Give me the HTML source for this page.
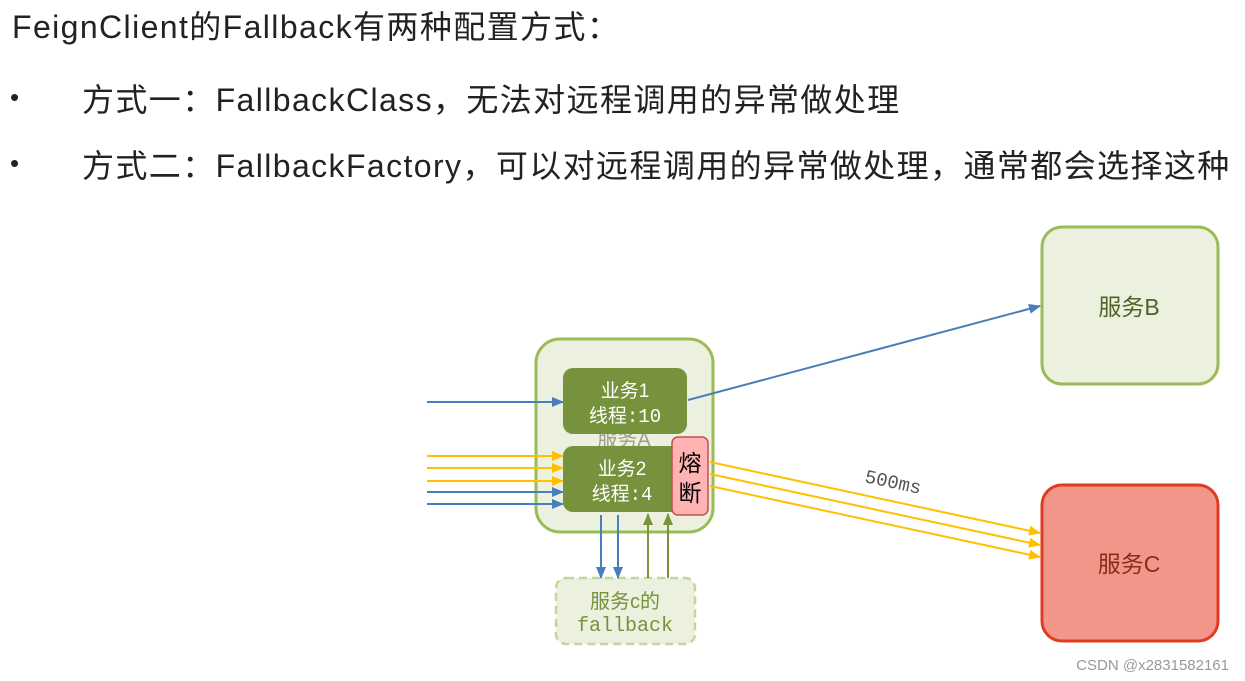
<!DOCTYPE html>
<html><head><meta charset="utf-8"><style>
body{margin:0;width:1245px;height:681px;background:#fff;position:relative;overflow:hidden;font-family:"Liberation Sans","Noto Sans CJK SC",sans-serif;}
.t{position:absolute;color:#222;font-size:32px;letter-spacing:1.4px;white-space:nowrap;}
.b{position:absolute;color:#222;font-size:26px;}
</style></head><body>
<div class="t" style="left:12px;top:2px;">FeignClient的Fallback有两种配置方式：</div>
<div class="b" style="left:10px;top:82px;">•</div>
<div class="t" style="left:82px;top:75px;">方式一：FallbackClass，无法对远程调用的异常做处理</div>
<div class="b" style="left:10px;top:148px;">•</div>
<div class="t" style="left:82px;top:141px;">方式二：FallbackFactory，可以对远程调用的异常做处理，通常都会选择这种</div>
<svg width="1245" height="681" style="position:absolute;left:0;top:0" font-family="Liberation Sans, Noto Sans CJK SC, sans-serif">
<defs>
<marker id="ab" markerWidth="12" markerHeight="10" refX="11" refY="5" orient="auto" markerUnits="userSpaceOnUse"><path d="M0,0L12,5L0,10z" fill="#4a7ebb"/></marker>
<marker id="ay" markerWidth="12" markerHeight="10" refX="11" refY="5" orient="auto" markerUnits="userSpaceOnUse"><path d="M0,0L12,5L0,10z" fill="#ffc000"/></marker>
<marker id="ag" markerWidth="12" markerHeight="10" refX="11" refY="5" orient="auto" markerUnits="userSpaceOnUse"><path d="M0,0L12,5L0,10z" fill="#77933c"/></marker>
</defs>
<rect x="1042" y="227" width="176" height="157" rx="20" fill="#ebf1de" stroke="#9bbb59" stroke-width="3"/>
<text x="1129" y="315" font-size="23" fill="#4f6228" text-anchor="middle">服务B</text>
<rect x="1042" y="485" width="176" height="156" rx="20" fill="#f2968a" stroke="#e03c1f" stroke-width="3"/>
<text x="1129" y="572" font-size="23" fill="#8b2c1a" text-anchor="middle">服务C</text>
<rect x="536" y="339" width="177" height="193" rx="24" fill="#ebf1de" stroke="#9bbb59" stroke-width="3"/>
<text x="624" y="446" font-size="20" fill="#9aa08a" text-anchor="middle">服务A</text>
<rect x="563" y="368" width="124" height="66" rx="10" fill="#76923c"/>
<text x="625" y="397" font-size="19" fill="#fff" text-anchor="middle">业务1</text>
<text x="625" y="422" font-size="19" fill="#fff" text-anchor="middle">线程<tspan font-family="Liberation Mono, monospace">:10</tspan></text>
<rect x="563" y="446" width="124" height="66" rx="10" fill="#76923c"/>
<text x="622" y="475" font-size="19" fill="#fff" text-anchor="middle">业务2</text>
<text x="622" y="500" font-size="19" fill="#fff" text-anchor="middle">线程<tspan font-family="Liberation Mono, monospace">:4</tspan></text>
<rect x="672" y="437" width="36" height="78" rx="6" fill="#ffb3b3" stroke="#c0504d" stroke-width="1.5"/>
<text x="690" y="471" font-size="23" fill="#000" text-anchor="middle">熔</text>
<text x="690" y="501" font-size="23" fill="#000" text-anchor="middle">断</text>
<rect x="556" y="578" width="139" height="66" rx="10" fill="#ebf1de" stroke="#c3d69b" stroke-width="2.5" stroke-dasharray="8,5"/>
<text x="625" y="608" font-size="20" fill="#76923c" text-anchor="middle">服务c的</text>
<text x="625" y="631" font-size="20" fill="#76923c" text-anchor="middle" font-family="Liberation Mono, monospace">fallback</text>
<g stroke-width="2" fill="none">
<line x1="427" y1="402" x2="563" y2="402" stroke="#4a7ebb" marker-end="url(#ab)"/>
<line x1="427" y1="456" x2="563" y2="456" stroke="#ffc000" marker-end="url(#ay)"/>
<line x1="427" y1="468" x2="563" y2="468" stroke="#ffc000" marker-end="url(#ay)"/>
<line x1="427" y1="481" x2="563" y2="481" stroke="#ffc000" marker-end="url(#ay)"/>
<line x1="427" y1="492" x2="563" y2="492" stroke="#4a7ebb" marker-end="url(#ab)"/>
<line x1="427" y1="504" x2="563" y2="504" stroke="#4a7ebb" marker-end="url(#ab)"/>
<line x1="601" y1="515" x2="601" y2="578" stroke="#4a7ebb" marker-end="url(#ab)"/>
<line x1="618" y1="515" x2="618" y2="578" stroke="#4a7ebb" marker-end="url(#ab)"/>
<line x1="648" y1="578" x2="648" y2="514" stroke="#77933c" marker-end="url(#ag)"/>
<line x1="668" y1="578" x2="668" y2="514" stroke="#77933c" marker-end="url(#ag)"/>
<line x1="688" y1="400" x2="1040" y2="306" stroke="#4a7ebb" marker-end="url(#ab)"/>
<line x1="710" y1="462" x2="1040" y2="533" stroke="#ffc000" marker-end="url(#ay)"/>
<line x1="710" y1="474" x2="1040" y2="545" stroke="#ffc000" marker-end="url(#ay)"/>
<line x1="710" y1="486" x2="1040" y2="557" stroke="#ffc000" marker-end="url(#ay)"/>
</g>
<text x="864" y="482" font-size="19" fill="#555" font-family="Liberation Mono, monospace" transform="rotate(12 864 482)">500ms</text>
<text x="1229" y="670" font-size="15" fill="#999" text-anchor="end">CSDN @x2831582161</text>
</svg>
</body></html>
